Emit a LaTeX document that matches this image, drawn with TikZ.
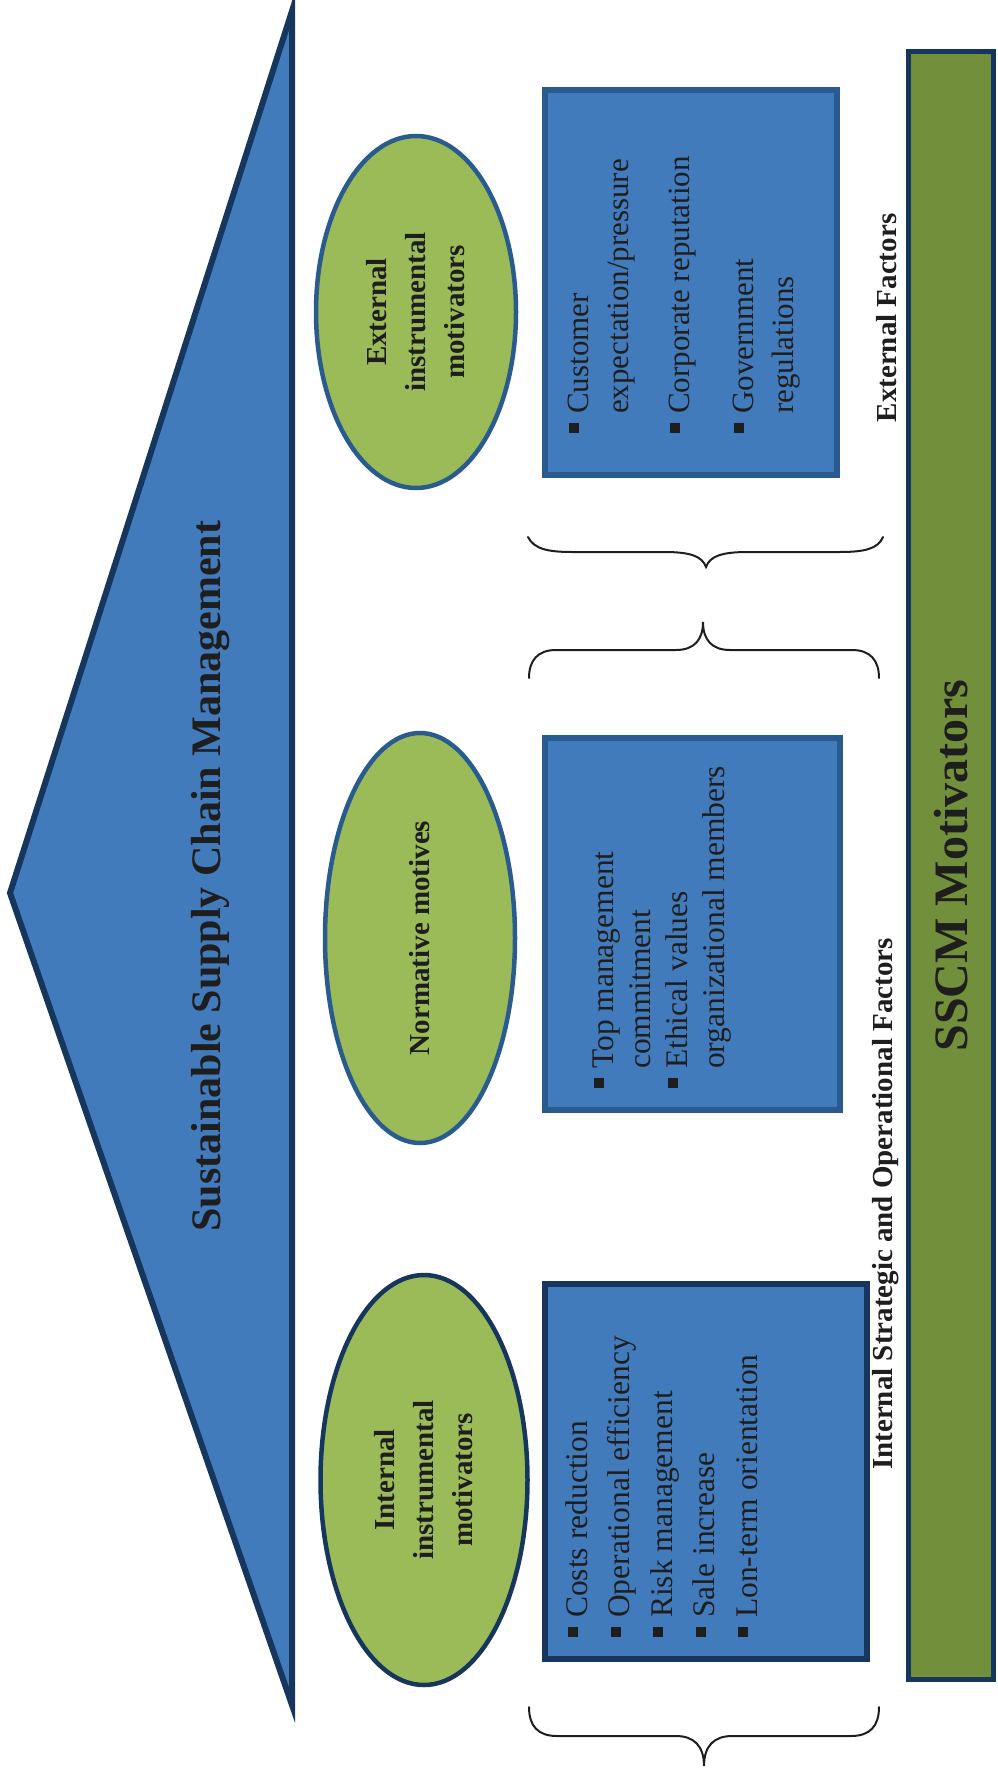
\documentclass[tikz,border=0pt]{standalone}
\usepackage{fontspec}
\setmainfont{Liberation Serif}
\usetikzlibrary{shapes.geometric}

\definecolor{panelblue}{RGB}{66,123,188}
\definecolor{navy}{RGB}{23,54,93}
\definecolor{edgeblue}{RGB}{42,91,143}
\definecolor{leafgreen}{RGB}{155,187,89}
\definecolor{bargreen}{RGB}{114,143,59}
\definecolor{ink}{RGB}{30,30,30}

% square bullet and the matching hanging indent
\newcommand{\sqbul}{\rule[9pt]{10pt}{10pt}\hspace{9pt}}
\newcommand{\hang}{\hspace{19pt}}

\begin{document}
\begin{tikzpicture}[x=1pt,y=-1pt,
  motive/.style={ellipse, fill=leafgreen, line width=4.5pt, rotate=90,
    inner sep=0pt, align=center, text=ink,
    font=\bfseries\fontsize{29}{39}\selectfont},
  itembox/.style={rectangle, fill=panelblue, line width=6pt, inner sep=0pt},
  items/.style={rotate=90, anchor=base west, inner sep=0pt, text=ink},
  factor/.style={rotate=90, anchor=base, inner sep=0pt, text=ink,
    font=\bfseries\fontsize{29}{35}\selectfont},
  curlybrace/.style={draw=ink, line width=2pt, line cap=round}]

\useasboundingbox (0,0) rectangle (997,1776);

% large arrow head
\draw[fill=panelblue, draw=navy, line width=6pt, line join=miter]
  (292,11) -- (10,893) -- (292,1705) -- cycle;
\node[rotate=90, anchor=base, inner sep=0pt, text=ink,
  font=\bfseries\fontsize{42}{50}\selectfont] (title) at (220,876)
  {Sustainable Supply Chain Management};

% motivator ellipses
\node[motive, draw=edgeblue, minimum width=352pt, minimum height=200pt]
  (extmot) at (416,312) {External\\instrumental\\motivators};
\node[motive, draw=edgeblue, minimum width=410pt, minimum height=190pt]
  (normmot) at (420,938) {Normative motives};
\node[motive, draw=navy, minimum width=410pt, minimum height=207pt]
  (intmot) at (424,1480) {Internal\\instrumental\\motivators};

% item boxes
\node[itembox, draw=edgeblue, minimum width=292pt, minimum height=385pt]
  (extbox) at (691,282.5) {};
\node[itembox, draw=edgeblue, minimum width=295pt, minimum height=372pt]
  (normbox) at (692.5,924) {};
\node[itembox, draw=navy, minimum width=322pt, minimum height=375pt]
  (intbox) at (706,1471.5) {};

\node[items, font=\fontsize{31}{40}\selectfont] (extlist) at (588,433)
  {\begin{tabular}[t]{@{}l@{}}
   \sqbul Customer\\
   \hang expectation/pressure\\[21pt]
   \sqbul Corporate reputation\\[24pt]
   \sqbul Government\\
   \hang regulations
   \end{tabular}};
\node[items, font=\fontsize{31.5}{37}\selectfont] (normlist) at (613,1088)
  {\begin{tabular}[t]{@{}l@{}}
   \sqbul Top management\\
   \hang commitment\\
   \sqbul Ethical values\\
   \hang organizational members
   \end{tabular}};
\node[items, font=\fontsize{31.5}{42.5}\selectfont] (intlist) at (587,1637)
  {\begin{tabular}[t]{@{}l@{}}
   \sqbul Costs reduction\\
   \sqbul Operational efficiency\\
   \sqbul Risk management\\
   \sqbul Sale increase\\
   \sqbul Lon-term orientation
   \end{tabular}};

% grouping braces
\draw[curlybrace] (528,537) .. controls (534,549) and (548,552) .. (572,552)
  -- (664,552) .. controls (690,552) and (702,556) .. (706,567)
  .. controls (710,556) and (722,552) .. (748,552)
  -- (840,552) .. controls (864,552) and (878,549) .. (883,537);
\draw[curlybrace] (529,678) .. controls (529,660) and (538,650) .. (556,650)
  -- (676,650) .. controls (694,650) and (703,640) .. (703,622)
  .. controls (703,640) and (712,650) .. (730,650)
  -- (852,650) .. controls (870,650) and (879,660) .. (879,678);
\draw[curlybrace] (529,1707) .. controls (529,1726) and (538,1736) .. (557,1736)
  -- (676,1736) .. controls (694,1736) and (704,1746) .. (704,1766)
  .. controls (704,1746) and (714,1736) .. (732,1736)
  -- (851,1736) .. controls (870,1736) and (879,1726) .. (879,1707);

% factor labels
\node[factor] (extfac) at (896,318) {External Factors};
\node[factor] (intfac) at (892,1204) {Internal Strategic and Operational Factors};

% base bar
\node[rectangle, draw=navy, fill=bargreen, line width=5pt, rotate=90,
  minimum width=1628pt, minimum height=85pt, inner sep=0pt, text=ink,
  font=\bfseries\fontsize{48}{58}\selectfont] (bar) at (951,865.5)
  {SSCM Motivators};

\end{tikzpicture}
\end{document}
